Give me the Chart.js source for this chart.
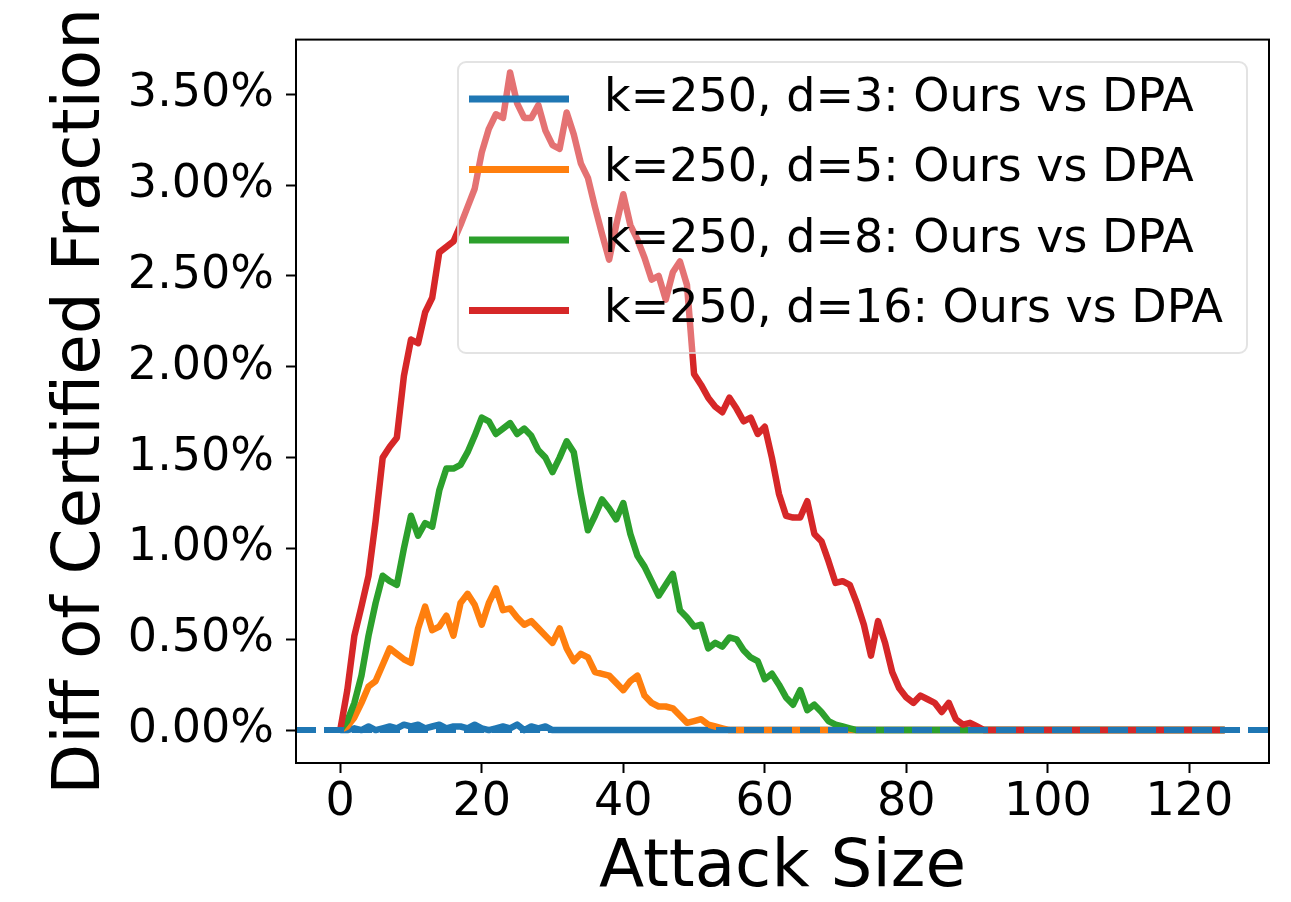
<!DOCTYPE html>
<html>
<head>
<meta charset="utf-8">
<script src="https://cdn.jsdelivr.net/npm/chart.js@4.4.1/dist/chart.umd.min.js"></script>
<style>
  body { margin: 0; background: #fff; }
  canvas { display: block; }
</style>
</head>
<body>
<canvas id="chart" width="1291" height="902"></canvas>
<script>
// diff of certified fraction (%), one value per attack size 0..125
const d3Diff = [
  0, 0, 0.01, 0, 0.02, 0, 0.01, 0.02, 0.01, 0.03,
  0.02, 0.03, 0.01, 0.02, 0.03, 0.01, 0.02, 0.02, 0.01, 0.03,
  0.01, 0, 0.01, 0.02, 0.01, 0.03, 0, 0.02, 0.01, 0.02,
  0, 0, 0, 0, 0, 0, 0, 0, 0, 0,
  0, 0, 0, 0, 0, 0, 0, 0, 0, 0,
  0, 0, 0, 0, 0, 0, 0, 0, 0, 0,
  0, 0, 0, 0, 0, 0, 0, 0, 0, 0,
  0, 0, 0, 0, 0, 0, 0, 0, 0, 0,
  0, 0, 0, 0, 0, 0, 0, 0, 0, 0,
  0, 0, 0, 0, 0, 0, 0, 0, 0, 0,
  0, 0, 0, 0, 0, 0, 0, 0, 0, 0,
  0, 0, 0, 0, 0, 0, 0, 0, 0, 0,
  0, 0, 0, 0, 0, 0
];
const d5Diff = [
  0, 0.02, 0.07, 0.15, 0.24, 0.27, 0.36, 0.45, 0.42, 0.39,
  0.37, 0.56, 0.68, 0.55, 0.57, 0.63, 0.52, 0.70, 0.75, 0.69,
  0.58, 0.70, 0.78, 0.66, 0.67, 0.62, 0.58, 0.60, 0.56, 0.52,
  0.48, 0.56, 0.45, 0.38, 0.42, 0.40, 0.32, 0.31, 0.30, 0.26,
  0.22, 0.27, 0.30, 0.19, 0.15, 0.13, 0.13, 0.12, 0.08, 0.04,
  0.05, 0.06, 0.03, 0.02, 0.01, 0, 0, 0, 0, 0,
  0, 0, 0, 0, 0, 0, 0, 0, 0, 0,
  0, 0, 0, 0, 0, 0, 0, 0, 0, 0,
  0, 0, 0, 0, 0, 0, 0, 0, 0, 0,
  0, 0, 0, 0, 0, 0, 0, 0, 0, 0,
  0, 0, 0, 0, 0, 0, 0, 0, 0, 0,
  0, 0, 0, 0, 0, 0, 0, 0, 0, 0,
  0, 0, 0, 0, 0, 0
];
const d8Diff = [
  0, 0.05, 0.15, 0.30, 0.52, 0.70, 0.85, 0.82, 0.80, 1.00,
  1.18, 1.07, 1.14, 1.12, 1.32, 1.44, 1.44, 1.46, 1.53, 1.62,
  1.72, 1.70, 1.63, 1.66, 1.69, 1.63, 1.66, 1.62, 1.54, 1.50,
  1.42, 1.50, 1.59, 1.53, 1.30, 1.10, 1.18, 1.27, 1.22, 1.16,
  1.25, 1.08, 0.96, 0.90, 0.82, 0.74, 0.80, 0.86, 0.66, 0.62,
  0.57, 0.58, 0.45, 0.48, 0.46, 0.51, 0.50, 0.44, 0.40, 0.38,
  0.28, 0.31, 0.25, 0.18, 0.14, 0.22, 0.11, 0.14, 0.10, 0.05,
  0.03, 0.02, 0.01, 0, 0, 0, 0, 0, 0, 0,
  0, 0, 0, 0, 0, 0, 0, 0, 0, 0,
  0, 0, 0, 0, 0, 0, 0, 0, 0, 0,
  0, 0, 0, 0, 0, 0, 0, 0, 0, 0,
  0, 0, 0, 0, 0, 0, 0, 0, 0, 0,
  0, 0, 0, 0, 0, 0
];
const d16Diff = [
  0, 0.22, 0.52, 0.68, 0.85, 1.15, 1.50, 1.56, 1.61, 1.95,
  2.15, 2.13, 2.30, 2.38, 2.63, 2.66, 2.69, 2.78, 2.88, 2.98,
  3.18, 3.31, 3.39, 3.37, 3.62, 3.45, 3.37, 3.37, 3.44, 3.30,
  3.22, 3.20, 3.40, 3.28, 3.12, 3.04, 2.88, 2.73, 2.59, 2.78,
  2.95, 2.78, 2.70, 2.60, 2.48, 2.50, 2.37, 2.52, 2.58, 2.45,
  1.96, 1.90, 1.83, 1.78, 1.75, 1.83, 1.77, 1.70, 1.72, 1.63,
  1.67, 1.50, 1.30, 1.18, 1.17, 1.17, 1.26, 1.08, 1.04, 0.93,
  0.81, 0.82, 0.80, 0.70, 0.58, 0.41, 0.60, 0.48, 0.32, 0.23,
  0.18, 0.15, 0.19, 0.17, 0.15, 0.10, 0.15, 0.06, 0.03, 0.04,
  0.02, 0, 0, 0, 0, 0, 0, 0, 0, 0,
  0, 0, 0, 0, 0, 0, 0, 0, 0, 0,
  0, 0, 0, 0, 0, 0, 0, 0, 0, 0,
  0, 0, 0, 0, 0, 0
];
const attackSize = d16Diff.map((_, i) => i);

const seriesLabels = [
  "k=250, d=3: Ours vs DPA",
  "k=250, d=5: Ours vs DPA",
  "k=250, d=8: Ours vs DPA",
  "k=250, d=16: Ours vs DPA",
];
const seriesColors = ["#1f77b4", "#ff7f0e", "#2ca02c", "#d62728"];
const xTicks = [0, 20, 40, 60, 80, 100, 120];
const yTicks = [0, 0.5, 1, 1.5, 2, 2.5, 3, 3.5];

const FONT = "'DejaVu Sans', sans-serif";

const toPoints = (vals) => vals.map((v, i) => ({ x: attackSize[i], y: v }));

// zero baseline (dashed) + frame + legend drawn over the lines like matplotlib
const overlayPlugin = {
  id: "overlay",
  afterDatasetsDraw(chart) {
    const { ctx, chartArea } = chart;
    const y0 = chart.scales.y.getPixelForValue(0);
    ctx.save();
    ctx.strokeStyle = seriesColors[0];
    ctx.lineWidth = 6;
    ctx.setLineDash([20, 8]);
    ctx.beginPath();
    ctx.moveTo(chartArea.left, y0);
    ctx.lineTo(chartArea.right, y0);
    ctx.stroke();
    ctx.setLineDash([]);

    // legend box
    const lx = 458, ly = 62, lw = 789, lh = 291;
    ctx.fillStyle = "rgba(255,255,255,0.35)";
    ctx.strokeStyle = "rgba(220,220,220,0.8)";
    ctx.lineWidth = 2;
    ctx.beginPath();
    ctx.roundRect(lx, ly, lw, lh, 8);
    ctx.fill();
    ctx.stroke();

    ctx.font = "46px " + FONT;
    ctx.textBaseline = "middle";
    ctx.textAlign = "left";
    seriesLabels.forEach((label, i) => {
      const yy = 99 + i * 70.5;
      ctx.strokeStyle = seriesColors[i];
      ctx.lineWidth = 7;
      ctx.beginPath();
      ctx.moveTo(469, yy);
      ctx.lineTo(569, yy);
      ctx.stroke();
      ctx.fillStyle = "#000";
      ctx.fillText(label, 604, yy);
    });

    // axes frame
    ctx.strokeStyle = "#000";
    ctx.lineWidth = 2;
    ctx.strokeRect(chartArea.left, chartArea.top,
      chartArea.right - chartArea.left, chartArea.bottom - chartArea.top);
    ctx.restore();
  },
};

const datasets = [d3Diff, d5Diff, d8Diff, d16Diff].map((vals, i) => ({
  label: seriesLabels[i],
  data: toPoints(vals),
  borderColor: seriesColors[i],
  backgroundColor: seriesColors[i],
  borderWidth: 6.5,
  borderJoinStyle: "round",
  pointRadius: 0,
  tension: 0,
  order: 4 - i,
}));

new Chart(document.getElementById("chart"), {
  type: "line",
  data: { datasets },
  options: {
    responsive: false,
    animation: false,
    layout: { padding: { left: 0, top: 37, right: 22, bottom: 0 } },
    plugins: { legend: { display: false }, tooltip: { enabled: false } },
    scales: {
      x: {
        type: "linear",
        min: -6.25,
        max: 131.25,
        afterBuildTicks: (s) => { s.ticks = xTicks.map((v) => ({ value: v })); },
        afterFit: (s) => { s.height = 139; },
        grid: { drawOnChartArea: false, drawTicks: true, tickLength: 10, tickColor: "#000", tickWidth: 2 },
        border: { display: true, color: "#000", width: 2 },
        ticks: {
          color: "#000",
          padding: 2,
          maxRotation: 0,
          autoSkip: false,
          font: { family: FONT, size: 46, lineHeight: 1.2 },
          callback: (v) => String(v),
        },
        title: {
          display: true,
          text: "Attack Size",
          color: "#000",
          font: { family: FONT, size: 66, lineHeight: 1 },
          padding: { top: 0, bottom: 0 },
        },
      },
      y: {
        type: "linear",
        min: -0.181,
        max: 3.801,
        afterBuildTicks: (s) => { s.ticks = yTicks.map((v) => ({ value: v })); },
        afterFit: (s) => { s.width = 296; },
        grid: { drawOnChartArea: false, drawTicks: true, tickLength: 10, tickColor: "#000", tickWidth: 2 },
        border: { display: true, color: "#000", width: 2 },
        ticks: {
          color: "#000",
          padding: 12,
          autoSkip: false,
          font: { family: FONT, size: 46 },
          callback: (v) => v.toFixed(2) + "%",
        },
        title: {
          display: true,
          text: "Diff of Certified Fraction",
          color: "#000",
          font: { family: FONT, size: 66, lineHeight: 1 },
          padding: { top: 49, bottom: 0 },
        },
      },
    },
  },
  plugins: [overlayPlugin],
});
</script>
</body>
</html>
